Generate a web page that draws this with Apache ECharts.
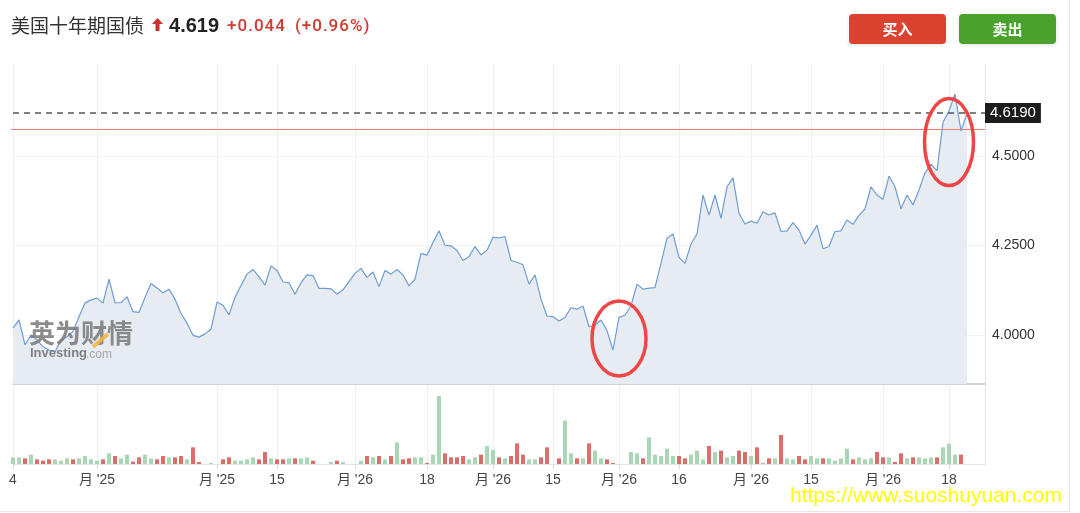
<!DOCTYPE html>
<html>
<head>
<meta charset="utf-8">
<title>美国十年期国债</title>
<script src="https://cdn.jsdelivr.net/npm/echarts@6/dist/echarts.min.js"></script>
<style>
    html, body { margin: 0; padding: 0; background: #fff; }
    body { width: 1080px; height: 513px; position: relative; overflow: hidden;
           font-family: "Liberation Sans", "Noto Sans CJK SC", sans-serif; }
    #frame { position: absolute; left: 0; top: 0; width: 1069px; height: 511px;
             border-right: 1px solid #e6e6e6; border-bottom: 1px solid #e6e6e6; }
    #chart { position: absolute; left: 0; top: 0; width: 1080px; height: 513px; }
    .head { position: absolute; top: 11px; left: 11px; height: 26px; line-height: 26px; white-space: nowrap; }
    .head .name { font-size: 19px; color: #333; font-family: "Noto Sans CJK SC", sans-serif; vertical-align: middle; }
    .head .arrow { display: inline-block; vertical-align: middle; margin: 0 6px 0 8px; }
    .head .price { font-size: 20px; font-weight: bold; color: #222; vertical-align: middle; }
    .head .chg { font-size: 17px; color: #d2392d; font-family: Roboto, "Liberation Sans", sans-serif;
                 font-weight: 500; letter-spacing: 1px; vertical-align: middle; margin-left: 8px; }
    .btn { position: absolute; top: 14px; width: 97px; height: 30px; line-height: 30px; border-radius: 4px;
           color: #fff; font-weight: bold; font-size: 15px; text-align: center;
           font-family: "Noto Sans CJK SC", sans-serif; box-shadow: 0 1px 4px rgba(0,0,0,0.12); }
    .buy { left: 849px; background: #d9432f; }
    .sell { left: 959px; background: #4aa12d; }
    .url { position: absolute; left: 790px; top: 483px; font-size: 21px; color: #ffff00;
           font-family: "Liberation Sans", sans-serif; white-space: nowrap; z-index: 5; }
</style>
</head>
<body>
<div id="frame"></div>
<div id="chart"></div>
<div class="head">
    <span class="name">美国十年期国债</span><svg class="arrow" width="11" height="13" viewBox="0 0 11 13"><polygon points="5.5,0 11,6 7.5,6 7.5,13 3.5,13 3.5,6 0,6" fill="#c9302c"/></svg><span class="price">4.619</span><span class="chg">+0.044</span><span class="chg" style="margin-left:9px">(+0.96%)</span>
</div>
<div class="btn buy">买入</div>
<div class="btn sell">卖出</div>
<div class="url">https://www.suoshuyuan.com</div>

<script>
// 收益率（每个交易日）
var prices = [
    4.019, 4.042, 3.972, 4.000, 3.986, 3.967, 3.958, 3.953, 3.986, 3.995,
    4.010, 4.051, 4.089, 4.098, 4.103, 4.089, 4.156, 4.090, 4.090, 4.107,
    4.065, 4.063, 4.105, 4.144, 4.131, 4.118, 4.128, 4.100, 4.060, 4.033,
    3.999, 3.994, 4.003, 4.016, 4.092, 4.083, 4.056, 4.105, 4.138, 4.170,
    4.183, 4.162, 4.139, 4.193, 4.180, 4.148, 4.146, 4.114, 4.146, 4.168,
    4.166, 4.130, 4.130, 4.129, 4.114, 4.126, 4.149, 4.172, 4.186, 4.161,
    4.176, 4.135, 4.180, 4.170, 4.183, 4.168, 4.137, 4.156, 4.228, 4.223,
    4.258, 4.291, 4.251, 4.249, 4.236, 4.208, 4.219, 4.247, 4.224, 4.237,
    4.273, 4.271, 4.275, 4.208, 4.203, 4.196, 4.142, 4.168, 4.100, 4.053,
    4.051, 4.039, 4.049, 4.076, 4.072, 4.081, 4.023, 4.027, 4.042, 4.012,
    3.958, 4.049, 4.055, 4.081, 4.142, 4.128, 4.131, 4.132, 4.200, 4.270,
    4.282, 4.217, 4.200, 4.254, 4.282, 4.391, 4.335, 4.391, 4.326, 4.414,
    4.439, 4.340, 4.310, 4.318, 4.312, 4.344, 4.335, 4.341, 4.289, 4.291,
    4.314, 4.293, 4.254, 4.279, 4.307, 4.241, 4.247, 4.289, 4.291, 4.321,
    4.309, 4.334, 4.352, 4.414, 4.391, 4.379, 4.444, 4.414, 4.352, 4.391,
    4.363, 4.405, 4.453, 4.477, 4.459, 4.594, 4.626, 4.673, 4.570, 4.619
];

// 成交量
var volumes = [
    20, 20, 17, 28, 14, 10, 14, 14, 10, 17,
    14, 17, 24, 14, 10, 14, 32, 24, 17, 28,
    7, 20, 28, 17, 14, 24, 20, 20, 24, 14,
    50, 6, 0, 3, 0, 14, 20, 10, 10, 14,
    20, 14, 36, 17, 14, 14, 17, 17, 17, 20,
    10, 0, 0, 6, 10, 6, 0, 0, 10, 24,
    20, 24, 14, 24, 65, 14, 17, 20, 20, 3,
    28, 204, 32, 20, 20, 24, 14, 20, 28, 54,
    42, 20, 17, 24, 62, 28, 14, 14, 20, 50,
    0, 17, 130, 32, 17, 17, 62, 40, 17, 14,
    3, 0, 0, 36, 32, 17, 80, 28, 24, 46,
    24, 24, 17, 28, 40, 14, 54, 36, 40, 20,
    24, 40, 36, 24, 50, 2, 17, 17, 87, 17,
    14, 24, 14, 24, 17, 17, 17, 10, 17, 46,
    14, 20, 14, 17, 36, 20, 20, 6, 32, 17,
    20, 20, 17, 20, 20, 50, 61, 28, 28, null
];

// 1 = 上涨(绿), 0 = 下跌(红)
var volUp = [
    1, 1, 0, 1, 0, 0, 0, 1, 1, 1,
    0, 1, 1, 1, 1, 0, 1, 0, 1, 1,
    0, 0, 1, 1, 0, 0, 1, 0, 0, 1,
    0, 0, 0, 1, 0, 0, 0, 1, 1, 1,
    1, 0, 0, 1, 0, 0, 1, 0, 1, 1,
    0, 0, 0, 1, 0, 1, 0, 0, 1, 0,
    1, 0, 1, 0, 1, 0, 0, 1, 1, 0,
    1, 1, 0, 0, 0, 0, 1, 1, 0, 1,
    1, 0, 1, 0, 0, 0, 1, 1, 0, 0,
    0, 0, 1, 1, 0, 1, 0, 1, 1, 0,
    0, 0, 0, 1, 1, 0, 1, 1, 1, 1,
    1, 0, 0, 1, 1, 1, 0, 1, 0, 1,
    1, 0, 0, 1, 0, 0, 0, 1, 0, 1,
    1, 0, 0, 1, 1, 0, 1, 1, 1, 1,
    0, 1, 1, 1, 0, 0, 1, 0, 0, 1,
    0, 1, 1, 1, 0, 1, 1, 1, 0, 0
];

// x轴刻度位置和文字
var tickIdx = [0, 14, 34, 44, 57, 69, 80, 90, 101, 111, 123, 133, 145, 156];
var tickText = ['4', "月 '25", "月 '25", '15', "月 '26", '18', "月 '26", '15', "月 '26", '16', "月 '26", '15', "月 '26", '18'];

// y轴刻度
var yTicks = [4.0, 4.25, 4.5];

var prevClose = 4.575;   // 昨收
var lastPrice = prices[prices.length - 1];

// 标注圈 [类目索引, 数值]
var circleMarks = [[101, 3.99], [155.5, 4.539]];

var catCount = 163;
var cats = [];
for (var i = 0; i < catCount; i++) cats.push(String(i));

var volData = volumes.map(function (v, i) {
    if (v === null) return '-';
    return {
        value: v,
        itemStyle: { color: volUp[i] ? '#a9d6b5' : '#d86f6a' }
    };
});

function isTick(index) {
    return tickIdx.indexOf(index) >= 0;
}

var myChart = echarts.init(document.getElementById('chart'));

var option = {
    animation: false,
    grid: [
        { left: 13, right: 95, top: 64, bottom: 129 },   // 收益率
        { left: 13, right: 95, top: 386, bottom: 49 }    // 成交量
    ],
    xAxis: [
        {
            type: 'category',
            gridIndex: 0,
            data: cats,
            boundaryGap: false,
            axisLine: { show: true, lineStyle: { color: '#d0d4db', width: 2 } },
            axisTick: { show: false },
            axisLabel: { show: false },
            splitLine: {
                show: true,
                interval: isTick,
                lineStyle: { color: '#eef0f4', width: 1 }
            }
        },
        {
            type: 'category',
            gridIndex: 1,
            data: cats,
            boundaryGap: false,
            axisLine: { show: true, lineStyle: { color: '#e0e3ea', width: 1 } },
            axisTick: {
                show: true,
                interval: isTick,
                length: 5,
                lineStyle: { color: '#d4d8df' }
            },
            axisLabel: {
                show: true,
                interval: isTick,
                margin: 9,
                color: '#444',
                fontSize: 14,
                fontFamily: 'Liberation Sans, Noto Sans CJK SC, sans-serif',
                formatter: function (value, index) {
                    var k = tickIdx.indexOf(index);
                    return k >= 0 ? tickText[k] : '';
                }
            },
            splitLine: {
                show: true,
                interval: isTick,
                lineStyle: { color: '#eef0f4', width: 1 }
            }
        }
    ],
    yAxis: [
        {
            type: 'value',
            gridIndex: 0,
            position: 'right',
            min: 3.863,
            max: 4.757,
            axisLine: { show: true, lineStyle: { color: '#e0e3ea' } },
            axisTick: { show: false, customValues: yTicks },
            axisLabel: {
                customValues: yTicks,
                margin: 7,
                color: '#333',
                fontSize: 14,
                fontFamily: 'Liberation Sans, sans-serif',
                formatter: function (v) { return v.toFixed(4); }
            },
            splitLine: { show: true, lineStyle: { color: '#f1f2f5' } }
        },
        {
            type: 'value',
            gridIndex: 1,
            position: 'right',
            min: 0,
            max: 234,
            axisLine: { show: true, lineStyle: { color: '#e0e3ea' } },
            axisTick: { show: false },
            axisLabel: { show: false },
            splitLine: { show: false }
        }
    ],
    series: [
        {
            type: 'line',
            xAxisIndex: 0,
            yAxisIndex: 0,
            data: prices,
            symbol: 'none',     //去掉点
            smooth: false,
            z: 3,
            lineStyle: { color: '#6e9dd4', width: 1.2 },
            areaStyle: { color: '#e7ecf3', opacity: 1, origin: 'start' },
            markLine: {
                symbol: 'none',
                lineStyle: { color: '#555', type: [6, 5], width: 1.5 },
                data: [
                    {
                        yAxis: lastPrice,
                        label: {
                            show: true,
                            position: 'end',
                            distance: 0,
                            formatter: lastPrice.toFixed(4),
                            color: '#fff',
                            backgroundColor: '#1c1c1c',
                            fontSize: 15,
                            fontFamily: 'Liberation Sans, sans-serif',
                            padding: [3, 5, 2, 5]
                        }
                    }
                ]
            }
        },
        {
            type: 'bar',
            xAxisIndex: 1,
            yAxisIndex: 1,
            data: volData,
            barWidth: 4
        }
    ]
};

myChart.setOption(option);

// 水印、昨收线和标注圈
var graphics = [
    {
        type: 'text',
        left: 29, top: 320, z: 10,
        style: {
            text: '英为财情',
            fill: 'rgba(120,120,120,0.85)',
            font: 'bold 26px "Noto Sans CJK SC", sans-serif'
        }
    },
    {
        type: 'line', z: 11,
        shape: { x1: 93, y1: 347, x2: 108, y2: 334 },
        style: { stroke: 'rgba(245,180,60,0.85)', lineWidth: 4 }
    },
    {
        type: 'text',
        left: 30, top: 347, z: 10,
        style: {
            text: 'Investing',
            fill: 'rgba(110,110,110,0.85)',
            font: 'bold 13px "Liberation Sans", sans-serif'
        }
    },
    {
        type: 'text',
        left: 86, top: 349, z: 10,
        style: {
            text: '.com',
            fill: 'rgba(150,150,150,0.8)',
            font: '12px "Liberation Sans", sans-serif'
        }
    }
];

// 昨收线
var pcLeft = myChart.convertToPixel({ gridIndex: 0 }, [0, prevClose]);
var pcRight = myChart.convertToPixel({ gridIndex: 0 }, [catCount - 1, prevClose]);
var pcY = Math.round(pcLeft[1]) + 0.5;
graphics.push({
    type: 'line',
    z: 5,
    shape: { x1: pcLeft[0] - 2, y1: pcY, x2: pcRight[0], y2: pcY },
    style: { stroke: '#ee7f77', lineWidth: 1 }
});

var circleSize = [[27, 37.5], [24.5, 43.5]];
circleMarks.forEach(function (m, k) {
    var p = myChart.convertToPixel({ gridIndex: 0 }, m);
    graphics.push({
        type: 'ellipse',
        z: 20,
        shape: { cx: p[0], cy: p[1], rx: circleSize[k][0], ry: circleSize[k][1] },
        style: { fill: 'none', stroke: '#f04545', lineWidth: 3.5 }
    });
});

myChart.setOption({ graphic: graphics });
</script>
</body>
</html>
